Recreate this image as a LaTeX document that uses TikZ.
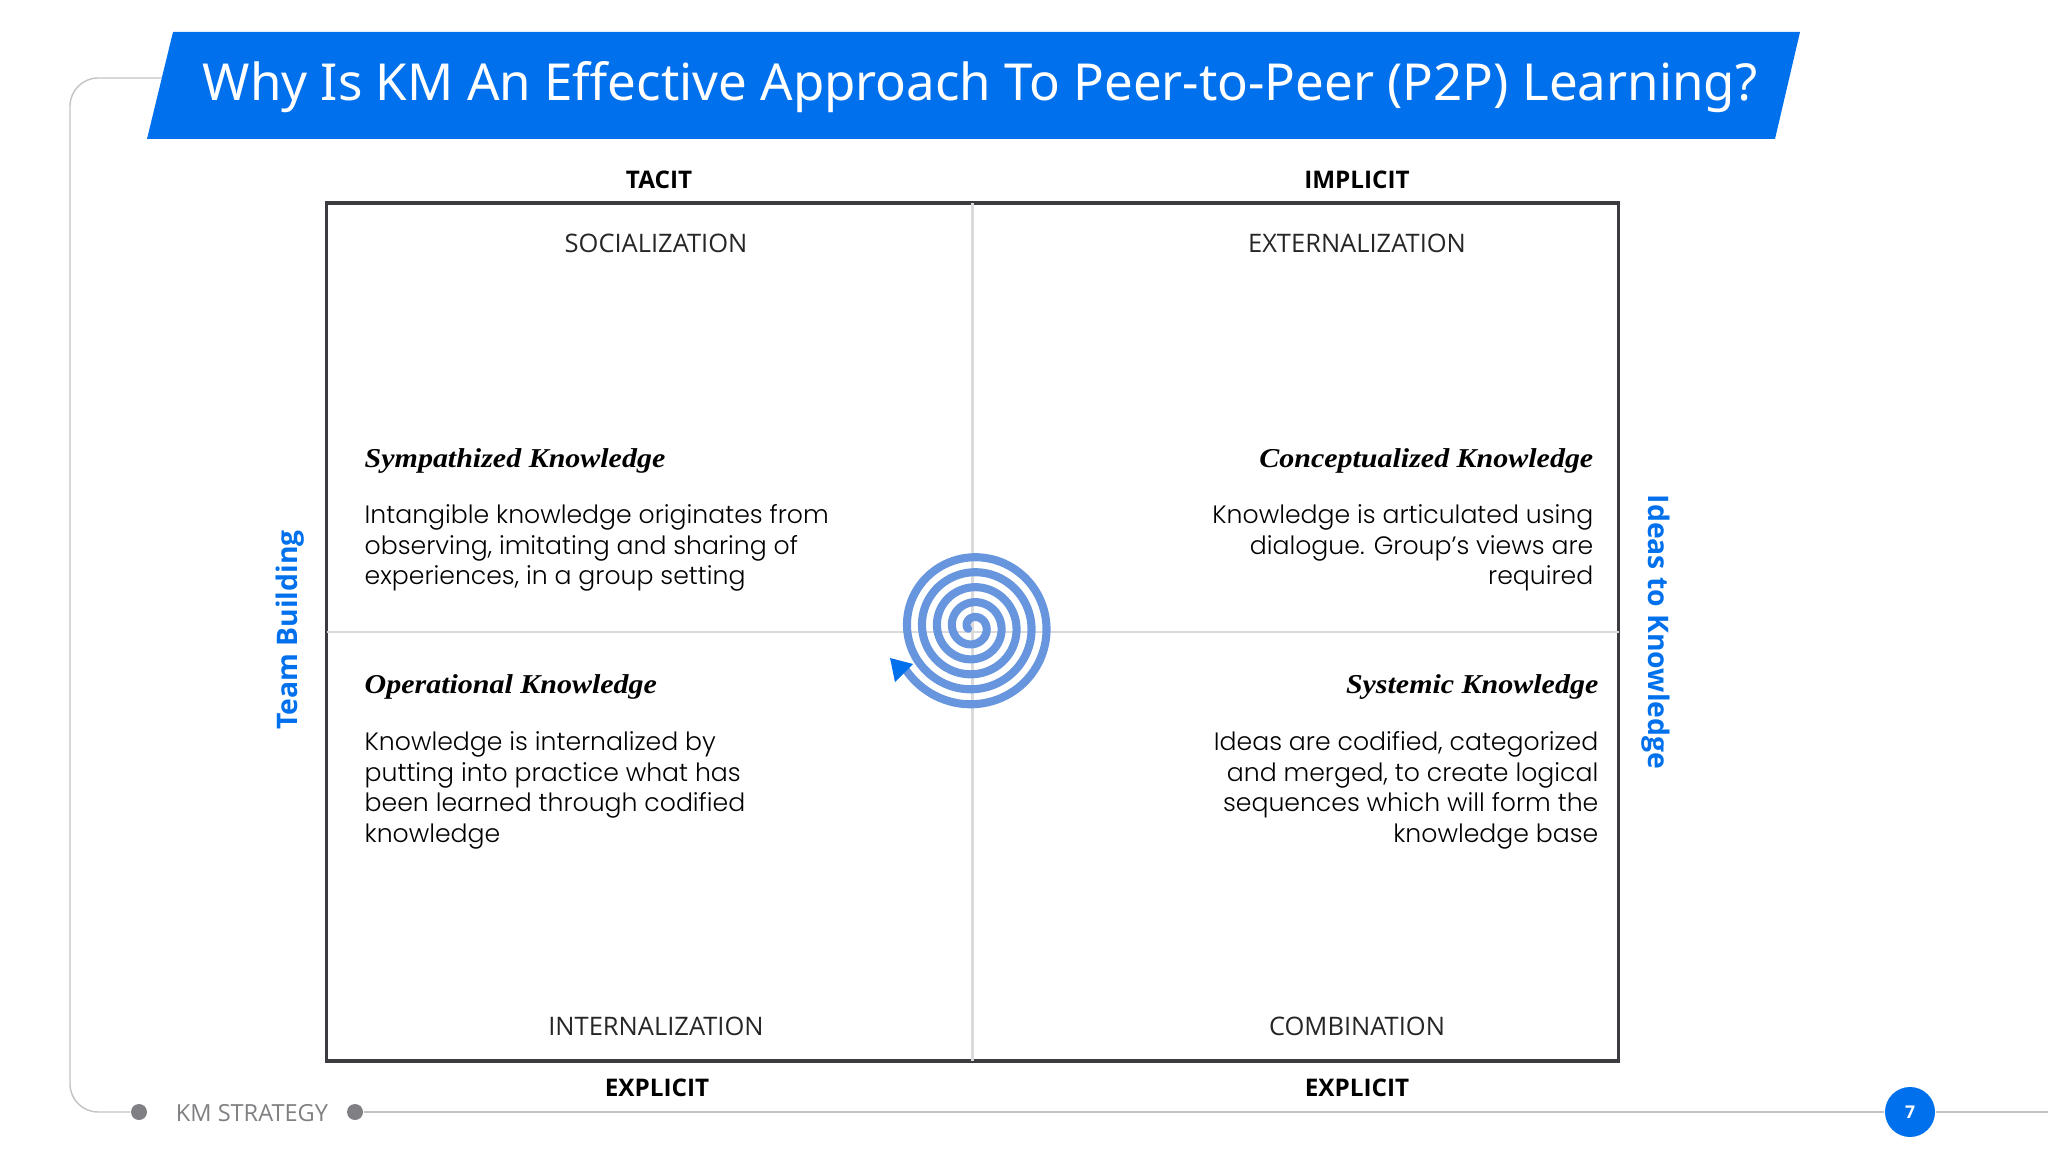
\documentclass[tikz,border=0pt]{standalone}
\usepackage{fontspec}
\setmainfont{Open Sans}
\newfontfamily\bodyfont{Poppins Light}
\newfontfamily\titlefont{Noto Sans}
\newfontfamily\headfont[FakeStretch=1.1]{Liberation Serif}
\definecolor{kmblue}{HTML}{0070EC}
\definecolor{spiralblue}{HTML}{6795DE}
\definecolor{framegray}{HTML}{C4C2C6}
\definecolor{dotgray}{HTML}{807F83}
\definecolor{gridgray}{HTML}{DADADA}
\definecolor{boxgray}{HTML}{3C3C40}
\tikzset{
    axislabel/.style={font=\fontsize{6.9}{9}\selectfont\bfseries, inner sep=0pt},
    modelabel/.style={font=\fontsize{7.25}{9}\selectfont, text=black!85, inner sep=0pt},
    sidelabel/.style={font=\fontsize{8.05}{10}\selectfont\bfseries, text=kmblue, inner sep=0pt},
    headleft/.style={font=\fontsize{7.75}{10}\headfont\bfseries\itshape, anchor=west, inner sep=0pt},
    headright/.style={font=\fontsize{7.75}{10}\headfont\bfseries\itshape, anchor=east, inner sep=0pt},
    textleft/.style={font=\fontsize{7.15}{8.7}\bodyfont, align=left, anchor=north west, inner sep=0pt},
    textright/.style={font=\fontsize{7.15}{8.7}\bodyfont, align=right, anchor=north east, inner sep=0pt},
    framedot/.style={circle, fill=dotgray, minimum size=16*0.01cm, inner sep=0pt},
    frameline/.style={draw=framegray, line width=0.4pt}
}
\begin{document}
\begin{tikzpicture}[x=0.01cm, y=-0.01cm]
\useasboundingbox (0, 0) rectangle (2048, 1152);
\coordinate (frametop) at (165, 78);
\coordinate (frameend) at (2048, 1112);
\node[framedot] (dotleft) at (139, 1112) {};
\node[framedot] (dotright) at (355, 1112) {};
\node[circle, fill=kmblue, minimum size=50*0.01cm, inner sep=0pt, text=white,
      font=\fontsize{5}{6}\selectfont\bfseries] (pagenum) at (1910, 1112) {7};
\draw[frameline, rounded corners=8pt] (frametop) -- (70, 78) -- (70, 1112) -- (dotleft);
\draw[frameline] (dotright) -- (pagenum);
\draw[frameline] (pagenum) -- (frameend);
\node[text=dotgray, inner sep=0pt, font=\fontsize{6.7}{8}\selectfont] (footer) at (252, 1113) {KM STRATEGY};
\fill[kmblue] (173, 32) -- (1800, 32) -- (1775, 139) -- (147, 139) -- cycle;
\node[text=white, inner sep=0pt, font=\fontsize{14.5}{16}\titlefont] (title) at (980, 87)
    {Why Is KM An Effective Approach To Peer-to-Peer (P2P) Learning?};
\node[draw=boxgray, line width=1pt, minimum width=1292*0.01cm, minimum height=858*0.01cm,
      inner sep=0pt, outer sep=0pt] (quadbox) at (972.5, 632) {};
\draw[draw=gridgray, line width=0.6pt] (quadbox.north) -- (quadbox.south);
\draw[draw=gridgray, line width=0.6pt] (quadbox.west) -- (quadbox.east);
\draw[spiralblue, line width=2.3pt, line cap=round, line join=round]
    plot[domain=-147:1640, samples=500] ({973+(73.5-\x/24)*cos(\x)}, {627-(73.5-\x/24)*sin(\x)});
\fill[kmblue] (890, 658) -- (913, 664) -- (895, 682) -- cycle;
\node[axislabel] (tacit) at (659, 180) {TACIT};
\node[axislabel] (implicit) at (1357, 180) {IMPLICIT};
\node[axislabel] (explicitleft) at (657, 1088) {EXPLICIT};
\node[axislabel] (explicitright) at (1357, 1088) {EXPLICIT};
\node[modelabel] (socialization) at (656, 243) {SOCIALIZATION};
\node[modelabel] (externalization) at (1357, 243) {EXTERNALIZATION};
\node[modelabel] (internalization) at (656, 1026) {INTERNALIZATION};
\node[modelabel] (combination) at (1357, 1026) {COMBINATION};
\node[sidelabel, rotate=90] (teambuilding) at (290, 630) {Team Building};
\node[sidelabel, rotate=-90] (ideas) at (1656, 632) {Ideas to Knowledge};
\node[headleft] (sympathized) at (364, 461) {Sympathized Knowledge};
\node[textleft] (sympathizedtext) at (364, 504) {Intangible knowledge originates from\\observing, imitating and sharing of\\experiences, in a group setting};
\node[headright] (conceptualized) at (1594, 461) {Conceptualized Knowledge};
\node[textright] (conceptualizedtext) at (1594, 504) {Knowledge is articulated using\\dialogue. Group’s views are\\required};
\node[headleft] (operational) at (364, 687) {Operational Knowledge};
\node[textleft] (operationaltext) at (364, 731) {Knowledge is internalized by\\putting into practice what has\\been learned through codified\\knowledge};
\node[headright] (systemic) at (1599, 687) {Systemic Knowledge};
\node[textright] (systemictext) at (1599, 731) {Ideas are codified, categorized\\and merged, to create logical\\sequences which will form the\\knowledge base};
\end{tikzpicture}
\end{document}
